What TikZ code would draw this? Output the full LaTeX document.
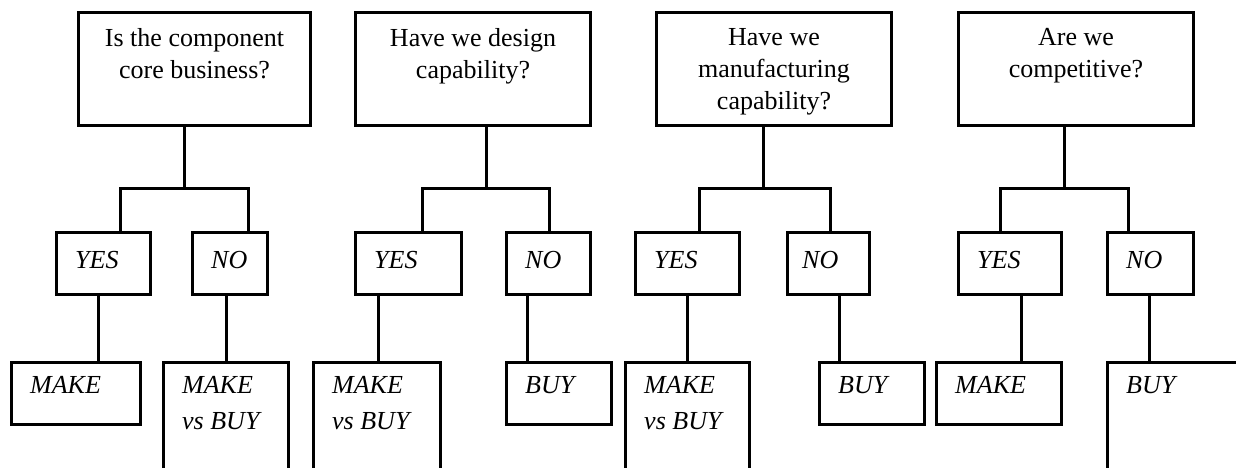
\documentclass[tikz,border=0pt]{standalone}
\usepackage{fontspec}
\setmainfont{Liberation Serif}
\usetikzlibrary{positioning}
\tikzset{box node/.style={draw,line width=3pt,inner sep=0pt,anchor=north west,minimum height=62pt},
	question node/.style={box node,minimum width=235pt,minimum height=113pt},
	choice node/.style={box node},
	answer node/.style={box node},
	open node/.style={box node,minimum height=140pt},
	question text/.style={anchor=north,yshift=-17.5pt,align=center,inner sep=0pt,font=\fontsize{26}{32}\selectfont},
	choice text/.style={anchor=north west,xshift=20pt,yshift=-20pt,inner sep=0pt,font=\fontsize{26}{36}\selectfont\itshape},
	answer text/.style={anchor=north west,xshift=20pt,yshift=-15pt,align=left,inner sep=0pt,font=\fontsize{26}{36}\selectfont\itshape},
	link/.style={draw,line width=3pt},}

\begin{document}
\begin{tikzpicture}[x=1pt, y=-1pt]
	\useasboundingbox (0,0) rectangle (1236,468);
	\clip (0,0) rectangle (1236,468);

	% the four questions
	\node[question node, minimum width=232pt, label={[question text]north:Is the component\\core business?}] (q1) at (77,11) {};
	\node[question node, label={[question text]north:Have we design\\capability?}] (q2) at (354,11) {};
	\node[question node, label={[question text]north:Have we\\manufacturing\\capability?}] (q3) at (655,11) {};
	\node[question node, label={[question text]north:Are we\\competitive?}] (q4) at (957,11) {};

	% yes / no
	\node[choice node, minimum width=94pt, label={[choice text]north west:YES}] (y1) at (55,231) {};
	\node[choice node, minimum width=75pt, label={[choice text]north west:NO}] (n1) at (191,231) {};
	\node[choice node, minimum width=106pt, label={[choice text]north west:YES}] (y2) at (354,231) {};
	\node[choice node, minimum width=84pt, label={[choice text]north west:NO}] (n2) at (505,231) {};
	\node[choice node, minimum width=104pt, label={[choice text]north west:YES}] (y3) at (634,231) {};
	\node[choice node, minimum width=82pt, label={[choice text, xshift=-4pt]north west:NO}] (n3) at (786,231) {};
	\node[choice node, minimum width=103pt, label={[choice text]north west:YES}] (y4) at (957,231) {};
	\node[choice node, minimum width=86pt, label={[choice text]north west:NO}] (n4) at (1106,231) {};

	% outcomes, the tall ones run off the bottom
	\node[answer node, minimum width=129pt, label={[answer text]north west:MAKE}] (a1) at (10,361) {};
	\node[open node, minimum width=125pt, label={[answer text]north west:MAKE\\vs BUY}] (b1) at (162,361) {};
	\node[open node, minimum width=127pt, label={[answer text]north west:MAKE\\vs BUY}] (a2) at (312,361) {};
	\node[answer node, minimum width=105pt, label={[answer text]north west:BUY}] (b2) at (505,361) {};
	\node[open node, minimum width=124pt, label={[answer text]north west:MAKE\\vs BUY}] (a3) at (624,361) {};
	\node[answer node, minimum width=105pt, label={[answer text]north west:BUY}] (b3) at (818,361) {};
	\node[answer node, minimum width=125pt, label={[answer text]north west:MAKE}] (a4) at (935,361) {};
	\node[open node, minimum width=200pt, label={[answer text]north west:BUY}] (b4) at (1106,361) {};

	% stems and forks
	\foreach \g/\xs/\xa/\xb/\xy/\xn in {1/184/120.5/248.5/98.5/226.5, 2/486/422.5/549.5/378.5/527.5,
		3/763/699.5/830.5/687.5/839.5, 4/1064/1000.5/1128.5/1021.5/1149.5}{
		\coordinate (s\g) at (\xs,188.5);
		\coordinate (fl\g) at (\xa,188.5);
		\coordinate (fr\g) at (\xb,188.5);
		\coordinate (ty\g) at (\xy,0);
		\coordinate (tn\g) at (\xn,0);
		\path[link] (q\g.south -| s\g) -- (s\g);
		\path[link] (y\g.north -| fl\g) -- (fl\g) -- (fr\g) -- (n\g.north -| fr\g);
		\path[link] (y\g.south -| ty\g) -- (a\g.north -| ty\g);
		\path[link] (n\g.south -| tn\g) -- (b\g.north -| tn\g);
	}
\end{tikzpicture}
\end{document}
